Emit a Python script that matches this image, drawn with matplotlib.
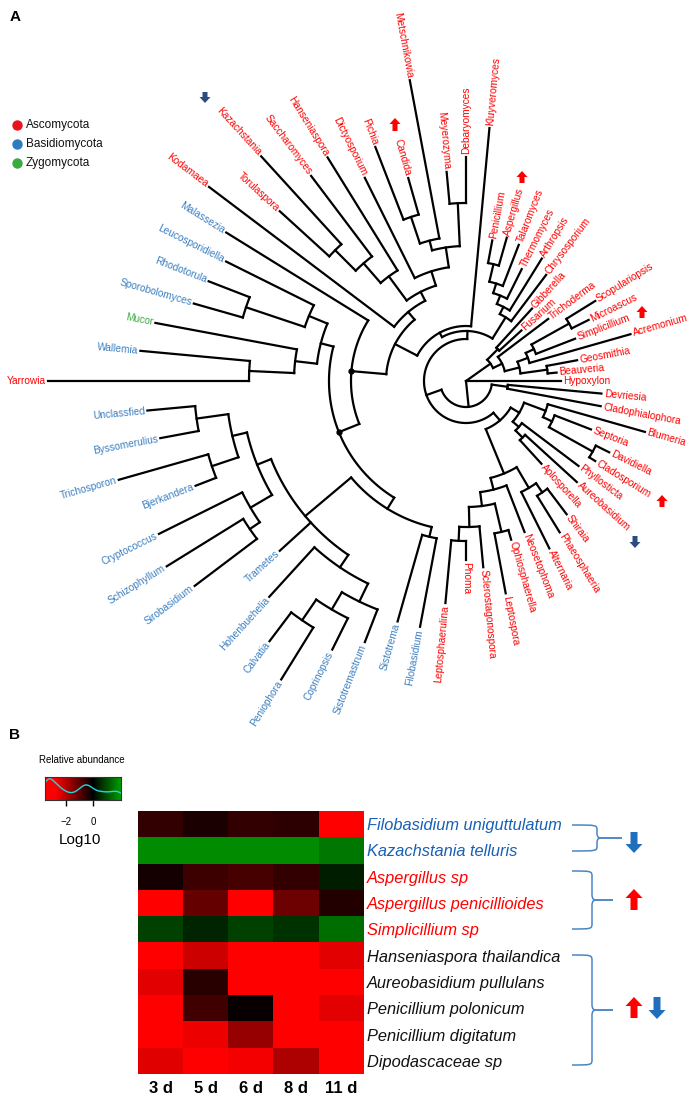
import numpy as np
import matplotlib
matplotlib.use("Agg")
import matplotlib.pyplot as plt
from matplotlib.colors import LinearSegmentedColormap, Normalize
from matplotlib.patches import FancyArrow, PathPatch
from matplotlib.path import Path

plt.rcParams['font.family'] = ['Liberation Sans', 'DejaVu Sans']

## ========================================================
## Panel A data : circular genus tree
## number after ':' = distance of the node from the tree centre (px)
## leaf order round the circle follows the string order
## ========================================================
sord_clade = ("((((Beauveria:91,Geosmithia:113):82,(Acremonium:171,(Simplicillium:117,"
              "(Microascus:137,Scopulariopsis:152):118):75):66):55,Trichoderma:103):40,"
              "(Fusarium:75,Gibberella:98):45):30")
eurot_clade = ("(Chrysosporium:133,(Arthropsis:144,(Thermomyces:125,(Talaromyces:146,"
               "(Aspergillus:149,Penicillium:143):120):102):92):83):75")
yeast_clade = ("(((((Debaryomyces:224,Meyerozyma:210):178,(Metschnikowia:306,"
               "(Candida:211,Pichia:251):173):145):135,Dictyosporium:227):115,"
               "(Hanseniaspora:263,(Saccharomyces:257,(Kazachstania:304,Torulaspora:252):185):156):130):100,"
               "Kodamaea:322):90")
basidio_up = ("((Leucosporidiella:268,(Rhodotorula:276,Sporobolomyces:283):232):170,"
              "(Mucor:316,(Wallemia:327,Yarrowia:418):217):172):150")
basidio_low_e = ("(((Unclassfied:320,Byssomerulius:311):272,(Trichosporon:361,Bjerkandera:290):268):240,"
                 "(Cryptococcus:343,(Schizophyllum:352,Sirobasidium:340):262):250):225")
basidio_low_h = ("(Hohenbuehelia:292,(((Calvatia:326,Peniophora:351):290,Coprinopsis:300):265,"
                 "Sistotremastrum:280):245):225")
basidio_low_sf = "(Sistotrema:250,Filobasidium:250):160"
pleo_clade = ("(((((Leptosphaerulina:223,Phoma:179):160,Sclerostagonospora:187):146,"
              "(Leptospora:216,Ophiosphaerella:165):155):126,Neosetophoma:162):112,"
              "(Alternaria:187,(Phaeosphaeria:178,Shiraia:167):135):124):100")
doth_clade = ("(((Aplosporella:112,Aureobasidium:150):80,Phyllosticta:141):70,"
              "(((Cladosporium:152,Davidiella:160):145,Septoria:134):95,Blumeria:186):85):62")
dc_clade = "(Cladophialophora:137,Devriesia:136):42"

basidio_low = f"(({basidio_low_e},Trametes:252,{basidio_low_h}):210,{basidio_low_sf}):150"
upper_part = f"(Kluyveromyces:254,({yeast_clade},(Malassezia:282,({basidio_up},{basidio_low})*:137)*:115):80):55"
tree_str = (f"(Hypoxylon:95,{sord_clade},((({eurot_clade},{upper_part}):50,"
            f"({pleo_clade},{doth_clade}):52):42,{dc_clade}):26):0")

basidio_genera = ["Malassezia", "Leucosporidiella", "Rhodotorula", "Sporobolomyces", "Wallemia",
                  "Unclassfied", "Byssomerulius", "Trichosporon", "Bjerkandera", "Cryptococcus",
                  "Schizophyllum", "Sirobasidium", "Trametes", "Hohenbuehelia", "Calvatia",
                  "Peniophora", "Coprinopsis", "Sistotremastrum", "Sistotrema", "Filobasidium"]
zygo_genera = ["Mucor"]
up_genera = ["Candida", "Aspergillus", "Simplicillium", "Cladosporium"]
down_genera = ["Kazachstania", "Aureobasidium"]

phylum_names = ["Ascomycota", "Basidiomycota", "Zygomycota"]
phylum_colors = ["#e8141c", "#2f7bbf", "#3bab3f"]
label_colors = {"Ascomycota": "#ff0000", "Basidiomycota": "#3a7fc1", "Zygomycota": "#3bab3f"}

## ========================================================
## Panel B data : heatmap
## ========================================================
species = ["Filobasidium uniguttulatum", "Kazachstania telluris", "Aspergillus sp",
           "Aspergillus penicillioides", "Simplicillium sp", "Hanseniaspora thailandica",
           "Aureobasidium pullulans", "Penicillium polonicum", "Penicillium digitatum",
           "Dipodascaceae sp"]
species_colors = ["#1760b5"] * 2 + ["#ff0000"] * 3 + ["#111111"] * 5
days = ["3 d", "5 d", "6 d", "8 d", "11 d"]
log_abund = np.array([
    [-0.55, -0.30, -0.55, -0.50, -3.30],
    [ 1.81,  1.81,  1.81,  1.81,  1.55],
    [-0.22, -0.66, -0.77, -0.55,  0.39],
    [-3.30, -1.10, -3.30, -1.20, -0.38],
    [ 0.84,  0.45,  0.84,  0.65,  1.42],
    [-3.30, -2.25, -3.30, -3.30, -2.50],
    [-2.50, -0.44, -3.30, -3.30, -3.30],
    [-3.30, -0.71, -0.10, -3.30, -2.50],
    [-3.30, -2.60, -1.65, -3.30, -3.30],
    [-2.47, -3.30, -2.70, -1.90, -3.30],
])
key_min, key_max = -3.56, 2.07


## ========================================================
## helpers
## ========================================================
def parse_tree(s):
    pos = 0

    def node():
        nonlocal pos
        children = []
        if s[pos] == "(":
            pos += 1
            children.append(node())
            while s[pos] == ",":
                pos += 1
                children.append(node())
            pos += 1
        start = pos
        while s[pos] not in ":,()":
            pos += 1
        name = s[start:pos]
        pos += 1
        start = pos
        while pos < len(s) and s[pos] not in ",()":
            pos += 1
        return {"name": name, "r": float(s[start:pos]), "children": children}

    return node()


CX, CY = 466, 381


def to_xy(r, a_deg):
    a = np.radians(a_deg)
    return CX + np.asarray(r) * np.cos(a), CY - np.asarray(r) * np.sin(a)


def brace(ax, x0, yt, yb, xv, xtip, color):
    ym = (yt + yb) / 2
    k = min(6, (yb - yt) / 5)
    for s in (1, -1):
        ye = yt if s == 1 else yb
        verts = [(x0, ye), (xv, ye), (xv, ye), (xv, ye + s * k),
                 (xv, ym - s * k), (xv, ym), (xv + 2, ym), (xv + 6, ym), (xtip, ym)]
        codes = [Path.MOVETO, Path.CURVE4, Path.CURVE4, Path.CURVE4,
                 Path.LINETO, Path.CURVE4, Path.CURVE4, Path.CURVE4, Path.LINETO]
        ax.add_patch(PathPatch(Path(verts, codes), fill=False, edgecolor=color, lw=1.1))


def block_arrow(ax, x, y0, y1, color, w, hw, hl):
    ax.add_patch(FancyArrow(x, y0, 0, y1 - y0, width=w, head_width=hw, head_length=hl,
                            length_includes_head=True, color=color, lw=0))


## ========================================================
## figure
## ========================================================
fig = plt.figure(figsize=(6.92, 10.98), dpi=100)
ax = fig.add_axes([0, 0, 1, 1])
ax.set_xlim(0, 692)
ax.set_ylim(1098, 0)
ax.axis("off")

## ---- tree layout ----
root = parse_tree(tree_str)
leaves = []


def collect(n):
    if not n["children"]:
        leaves.append(n)
    for c in n["children"]:
        collect(c)


collect(root)
step = 360.0 / len(leaves)
for i, lf in enumerate(leaves):
    lf["a"] = i * step


def set_angle(n):
    if n["children"]:
        n["a"] = float(np.mean([set_angle(c) for c in n["children"]]))
    return n["a"]


set_angle(root)

line_kw = dict(color="black", lw=1.6, solid_capstyle="projecting", zorder=2)


def draw(n):
    for c in n["children"]:
        ax.plot(*to_xy([n["r"], c["r"]], [c["a"], c["a"]]), **line_kw)
        draw(c)
    if n["children"] and n["r"] > 0:
        arc = np.linspace(n["children"][0]["a"], n["children"][-1]["a"], 120)
        ax.plot(*to_xy(np.full_like(arc, n["r"]), arc), **line_kw)
    if n["name"] == "*":
        ax.plot(*to_xy(n["r"], n["a"]), "o", color="black", ms=3.5, zorder=3)


draw(root)

## ---- leaf labels and arrows ----
for lf in leaves:
    name, a = lf["name"], lf["a"]
    ph = "Basidiomycota" if name in basidio_genera else (
        "Zygomycota" if name in zygo_genera else "Ascomycota")
    x, y = to_xy(lf["r"] + 2.5, a)
    if a <= 90 or a >= 270:
        rot, ha = (a if a <= 90 else a - 360), "left"
    else:
        rot, ha = a - 180, "right"
    ax.text(x, y, name, rotation=rot, ha=ha, va="center", rotation_mode="anchor",
            fontsize=7.3, color=label_colors[ph])

arrow_spots = {"Candida": (395, 131, 118), "Aspergillus": (522, 183, 171),
               "Simplicillium": (642, 318, 306), "Cladosporium": (662, 507, 495),
               "Kazachstania": (205, 92, 103), "Aureobasidium": (635, 536, 548)}
for g in up_genera:
    x, y0, y1 = arrow_spots[g]
    block_arrow(ax, x, y0, y1, "#ff0000", 5, 11, 6)
for g in down_genera:
    x, y0, y1 = arrow_spots[g]
    block_arrow(ax, x, y0, y1, "#2b4c7e", 5, 11, 6)

## ---- legend ----
for i, (nm, col) in enumerate(zip(phylum_names, phylum_colors)):
    ax.scatter(17, 125 + 19 * i, s=42, color=col, zorder=3)
    ax.text(26, 125 + 19 * i, nm, fontsize=8.5, va="center", ha="left", color="#111111")

ax.text(10, 17, "A", fontsize=11, fontweight="bold", va="center")
ax.text(9, 735, "B", fontsize=11, fontweight="bold", va="center")

## ---- heatmap ----
cmap = LinearSegmentedColormap.from_list(
    "rbg", [(0.0, (1, 0, 0)),
            ((-2.8 - key_min) / (key_max - key_min), (1, 0, 0)),
            ((0.0 - key_min) / (key_max - key_min), (0, 0, 0)),
            (1.0, (0, 0.62, 0))])
norm = Normalize(key_min, key_max)

W, H = 692, 1098
axh = fig.add_axes([138 / W, 1 - 1074 / H, 226 / W, 263 / H])
axh.imshow(log_abund, cmap=cmap, norm=norm, aspect="auto", interpolation="nearest")
axh.set_xticks(range(len(days)))
axh.set_xticklabels(days, fontsize=12, fontweight="bold")
axh.set_yticks(range(len(species)))
axh.set_yticklabels(species, fontsize=11.8, style="italic")
axh.yaxis.tick_right()
for lab, col in zip(axh.get_yticklabels(), species_colors):
    lab.set_color(col)
axh.tick_params(length=0)
axh.tick_params(axis="x", pad=5)
axh.tick_params(axis="y", pad=2)
for sp in axh.spines.values():
    sp.set_visible(False)

## ---- colour key with density trace ----
axk = fig.add_axes([45 / W, 1 - 800 / H, 76 / W, 23 / H])
grad = np.linspace(key_min, key_max, 256)[None, :]
axk.imshow(grad, cmap=cmap, norm=norm, aspect="auto",
           extent=(key_min, key_max, 0, 1))
vals = log_abund.ravel()
xs = np.linspace(key_min, key_max, 200)
dens = np.exp(-0.5 * ((xs[:, None] - vals[None, :]) / 0.45) ** 2).sum(axis=1)
axk.plot(xs, 0.1 + 0.82 * dens / dens.max(), color="#22d6e0", lw=1)
axk.set_xlim(key_min, key_max)
axk.set_ylim(0, 1)
axk.set_yticks([])
axk.set_xticks([-2, 0])
axk.set_xticklabels(["\u22122", "0"], fontsize=7)
axk.tick_params(axis="x", length=4, width=1, pad=8)
for sp in axk.spines.values():
    sp.set_linewidth(0.8)
    sp.set_color("#333333")
ax.text(82, 760, "Relative abundance", fontsize=7, ha="center", va="center")
ax.text(80, 840, "Log10", fontsize=11, ha="center", va="center")

## ---- braces and arrows of panel B ----
brace_col = "#4a86c5"
brace(ax, 572, 825, 851, 597, 622, brace_col)
brace(ax, 572, 871, 929, 592, 613, brace_col)
brace(ax, 572, 955, 1065, 592, 613, brace_col)
block_arrow(ax, 634, 832, 853, "#1f6fbf", 7, 17, 9)
block_arrow(ax, 634, 910, 889, "#ff0000", 7, 17, 9)
block_arrow(ax, 634, 1018, 997, "#ff0000", 7, 17, 9)
block_arrow(ax, 657, 997, 1019, "#1f6fbf", 7, 17, 9)

fig.savefig("out.png", dpi=100)
